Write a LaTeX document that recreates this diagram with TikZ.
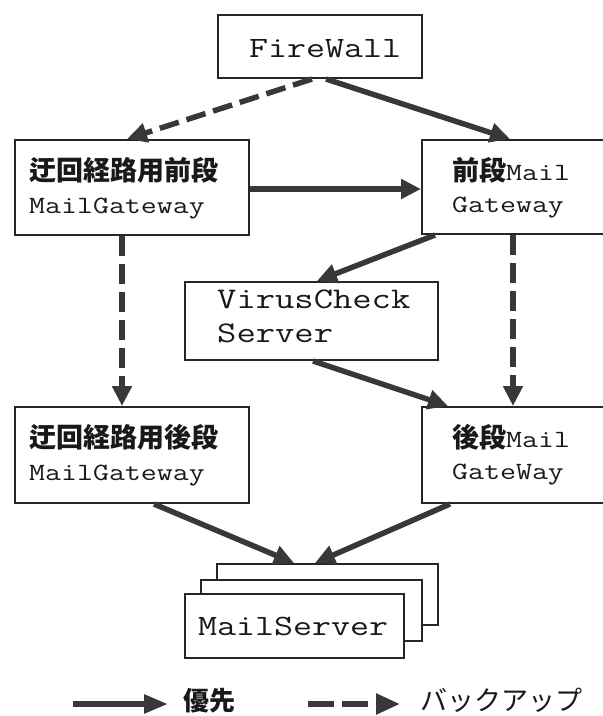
\documentclass[tikz,border=0pt]{standalone}
\usepackage{fontspec}
\setmonofont{Latin Modern Mono}[FakeStretch=1.25]
\newfontfamily\jpfont{Noto Sans CJK JP}
\usetikzlibrary{arrows.meta}

\newcommand\jpbold{\jpfont\bfseries}
\newcommand\monosize[1]{\ttfamily\fontsize{#1pt}{#1pt}\selectfont}

\tikzset{
  box/.style={draw=black!85, line width=2pt, fill=white, inner sep=0pt,
              anchor=north west},
  lbl/.style={anchor=base west, inner sep=0pt, text=black!90},
  flow/.style={draw=black!78, line width=5.5pt,
               -{Triangle[length=20pt,width=19pt]}},
  backup/.style={flow, dash pattern=on 20pt off 8pt},
}

\begin{document}
\begin{tikzpicture}[x=1pt, y=-1pt]
  \clip (0,0) rectangle (603,716);
  \useasboundingbox (0,0) rectangle (603,716);

  % boxes
  \node[box, minimum width=204pt, minimum height=63pt] (fw) at (217,14) {};
  \node[box, minimum width=234pt, minimum height=95pt] (lt) at (14,139) {};
  \node[box, minimum width=185pt, minimum height=94pt] (rt) at (421,139) {};
  \node[box, minimum width=253pt, minimum height=78pt] (vc) at (184,281) {};
  \node[box, minimum width=234pt, minimum height=96pt] (lb) at (14,406) {};
  \node[box, minimum width=185pt, minimum height=96pt] (rb) at (421,406) {};

  % stacked mail servers
  \node[box, minimum width=221pt, minimum height=61pt] (ms3) at (216,563) {};
  \node[box, minimum width=221pt, minimum height=61pt] (ms2) at (200,579) {};
  \node[box, minimum width=219pt, minimum height=64pt] (ms1) at (184,593) {};

  % labels
  \node[lbl] (tfw) at (249,57) {\monosize{29.5}FireWall};
  \node[lbl] (tlt1) at (29,180) {\fontsize{27pt}{27pt}\selectfont\jpbold 迂回経路用前段};
  \node[lbl] (tlt2) at (29,213) {\monosize{24.8}MailGateway};
  \node[lbl] (trt1) at (452,180) {\fontsize{27pt}{27pt}\selectfont\jpbold 前段{\monosize{24.8}\mdseries Mail}};
  \node[lbl] (trt2) at (452,212) {\monosize{24.8}Gateway};
  \node[lbl] (tvc1) at (217,308) {\monosize{30}VirusCheck};
  \node[lbl] (tvc2) at (217,342) {\monosize{30}Server};
  \node[lbl] (tlb1) at (29,447) {\fontsize{27pt}{27pt}\selectfont\jpbold 迂回経路用後段};
  \node[lbl] (tlb2) at (29,480) {\monosize{24.8}MailGateway};
  \node[lbl] (trb1) at (452,447) {\fontsize{27pt}{27pt}\selectfont\jpbold 後段{\monosize{24.8}\mdseries Mail}};
  \node[lbl] (trb2) at (452,479) {\monosize{24.8}GateWay};
  \node[lbl] (tms) at (198,635) {\monosize{29.5}MailServer};

  % connectors
  \draw[backup] ([xshift=95pt]fw.south west) -- ([xshift=113pt]lt.north west);
  \draw[flow]   ([xshift=109pt]fw.south west) -- ([xshift=89pt]rt.north west);
  \draw[flow]   ([yshift=-1.5pt]lt.east) -- ([yshift=-1.5pt]lt.east -| rt.west);
  \draw[flow]   ([xshift=14pt]rt.south west) -- ([xshift=133pt]vc.north west);
  \draw[backup] ([xshift=108pt]lt.south west) -- ([xshift=108pt]lb.north west);
  \draw[backup] ([xshift=92pt]rt.south west) -- ([xshift=92pt]rb.north west);
  \draw[flow]   ([xshift=129pt]vc.south west) -- ([xshift=27pt]rb.north west);
  \draw[flow]   ([xshift=140pt]lb.south west) -- ([xshift=78pt]ms3.north west);
  \draw[flow]   ([xshift=29pt]rb.south west) -- ([xshift=99pt]ms3.north west);

  % legend
  \coordinate (ls0) at (73,704);
  \coordinate (ls1) at (168,704);
  \coordinate (lb0) at (308,704);
  \coordinate (lb1) at (400,704);
  \draw[flow, -{Triangle[length=24pt,width=18pt]}] (ls0) -- (ls1);
  \draw[flow, dash pattern=on 26pt off 8pt, -{Triangle[length=24pt,width=20pt]}] (lb0) -- (lb1);
  \node[lbl] (tprio) at (183,710) {\fontsize{26pt}{26pt}\selectfont\jpbold 優先};
  \node[lbl] (tback) at (420,710) {\fontsize{27pt}{27pt}\selectfont\jpfont バックアップ};
\end{tikzpicture}
\end{document}
